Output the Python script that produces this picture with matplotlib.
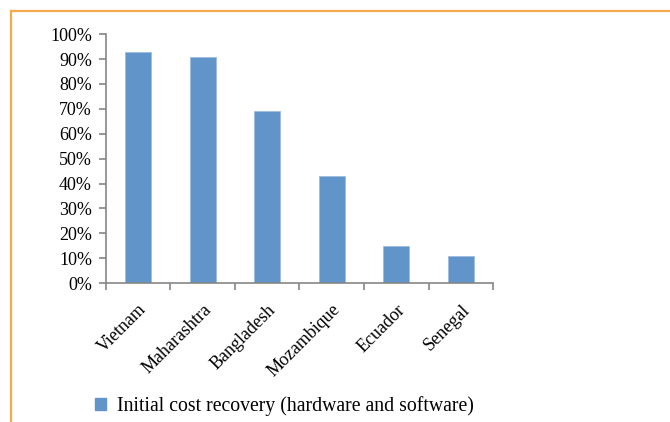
import matplotlib.pyplot as plt
from matplotlib.lines import Line2D
from matplotlib.patches import Patch
from matplotlib.ticker import FuncFormatter

plt.rcParams['font.family'] = ['Liberation Serif', 'DejaVu Serif']

countries = ['Vietnam', 'Maharashtra', 'Bangladesh', 'Mozambique', 'Ecuador', 'Senegal']
recovery = [0.93, 0.91, 0.69, 0.43, 0.15, 0.11]
series_name = 'Initial cost recovery (hardware and software)'

bar_color = '#6195CA'
axis_color = '#868686'
frame_color = '#F7A94E'

fig = plt.figure(figsize=(6.7, 4.22), dpi=100)
ax = fig.add_axes([0.158, 0.329, 0.578, 0.590])

x = range(len(countries))
ax.bar(x, recovery, width=0.4, color=bar_color, edgecolor='#9DBDE0', linewidth=0.6)

ax.set_xlim(-0.5, len(countries) - 0.5)
ax.set_ylim(0, 1.0)
ax.set_yticks([i / 10 for i in range(11)])
ax.yaxis.set_major_formatter(FuncFormatter(lambda v, p: f'{v * 100:.0f}%'))

# category boundaries carry the x tick marks
ax.set_xticks([i - 0.5 for i in range(len(countries) + 1)], minor=False)
ax.set_xticklabels([])
ax.set_xticks(list(x), minor=True)
ax.set_xticklabels(countries, minor=True, rotation=45, ha='right',
                   rotation_mode='anchor', fontsize=13)
ax.tick_params(axis='x', which='minor', length=0, pad=13)
ax.tick_params(axis='x', which='major', length=5, color=axis_color, width=1.2)
ax.tick_params(axis='y', length=5, color=axis_color, width=1.2, labelsize=13, pad=5)

for side in ['top', 'right']:
    ax.spines[side].set_visible(False)
for side in ['left', 'bottom']:
    ax.spines[side].set_color(axis_color)
    ax.spines[side].set_linewidth(1.2)

fig.legend(handles=[Patch(facecolor=bar_color, edgecolor=bar_color)], labels=[series_name],
           loc='center left', bbox_to_anchor=(0.142, 0.037), frameon=False,
           fontsize=14.2, handlelength=0.55, handleheight=0.55, handletextpad=0.55,
           borderpad=0, borderaxespad=0)

# orange frame along the top and left edge
fig.add_artist(Line2D([0.0164, 0.0164], [0.0, 0.974], color=frame_color, lw=1.6,
                      transform=fig.transFigure))
fig.add_artist(Line2D([0.0164, 1.0], [0.974, 0.974], color=frame_color, lw=1.6,
                      transform=fig.transFigure))

fig.savefig('out.png', dpi=100, facecolor='white')
